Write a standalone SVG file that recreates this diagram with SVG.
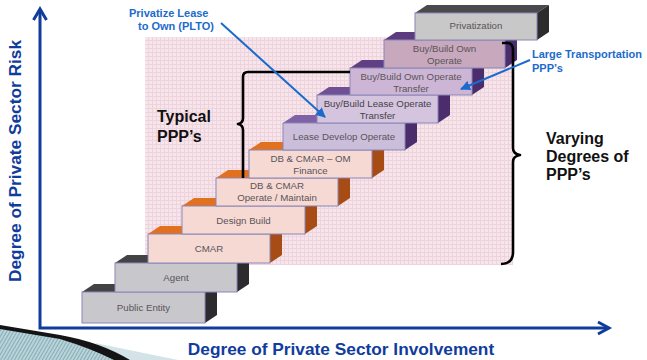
<svg xmlns="http://www.w3.org/2000/svg" width="647" height="360" viewBox="0 0 647 360">
  <defs>
    <pattern id="pinkGrid" width="4" height="4" patternUnits="userSpaceOnUse">
      <rect width="4" height="4" fill="#f6e6ec"/>
      <path d="M0,0.5H4M0.5,0V4" stroke="#eed3dc" stroke-width="1"/>
    </pattern>
    <pattern id="tealHatch" width="3" height="3" patternUnits="userSpaceOnUse" patternTransform="rotate(-60)">
      <rect width="3" height="3" fill="#b9d3d9"/>
      <path d="M0,0.5H3" stroke="#86adb6" stroke-width="1"/>
    </pattern>
    <marker id="blueHead" viewBox="0 0 10 10" refX="9" refY="5" markerWidth="5" markerHeight="5" orient="auto" markerUnits="strokeWidth">
      <path d="M0,0 L10,5 L0,10 Z" fill="#1c6bcc"/>
    </marker>
    <style>
      .front { stroke: #8a86b8; stroke-width: 1; }
      .gray .front { fill: #c8c8cc; }
      .gray .top { fill: #434345; }
      .gray .side { fill: #2c2c2e; }
      .peach .front { fill: #f6d9d3; }
      .peach .top { fill: #e2711f; }
      .peach .side { fill: #a84c16; }
      .violet .front { fill: #d0c2dd; }
      .violet .top { fill: #6f5094; }
      .violet .side { fill: #4a2d6a; }
      .lbl { font-family: "Liberation Sans", Arial, sans-serif; font-size: 9.7px; fill: #5a5458; text-anchor: middle; }
      .axis { stroke: #103c9c; stroke-width: 3; fill: none; }
      .axisText { font-family: "Liberation Sans", Arial, sans-serif; font-weight: bold; font-size: 17.3px; fill: #103c9c; }
      .note { font-family: "Liberation Sans", Arial, sans-serif; font-weight: bold; font-size: 11px; fill: #1c6bcc; }
      .big { font-family: "Liberation Sans", Arial, sans-serif; font-weight: bold; font-size: 16px; fill: #111; }
      .brace { stroke: #000; stroke-width: 2.6; fill: none; stroke-linejoin: round; }
      .callout { stroke: #1c6bcc; stroke-width: 2; fill: none; }
    </style>
  </defs>

  <rect width="647" height="360" fill="#ffffff"/>

  <!-- textured backdrop behind the staircase -->
  <rect x="145" y="37" width="368" height="228" fill="url(#pinkGrid)"/>

  <!-- corner decoration -->
  <path d="M95,343 L178,360 L112,360 Z" fill="#d3e3e7"/>
  <path d="M0,328 L95,344 L122,360 L0,360 Z" fill="url(#tealHatch)"/>
  <path d="M0,325 L60,335 Q100,342 130,360 L114,360 Q90,348 60,339 L0,329 Z" fill="#141414"/>

  <!-- staircase: each step = top face, side face, front face, label -->
  <g id="step-public-entity" class="gray">
    <polygon class="top" points="82,292 205,292 217,284 94,284"/>
    <polygon class="side" points="205,292 217,284 217,315 205,323"/>
    <rect class="front" x="82" y="292" width="123" height="31"/>
    <text class="lbl" x="143.5" y="311">Public Entity</text>
  </g>
  <g id="step-agent" class="gray">
    <polygon class="top" points="115,263 237,263 249,255 127,255"/>
    <polygon class="side" points="237,263 249,255 249,284 237,292"/>
    <rect class="front" x="115" y="263" width="122" height="29"/>
    <text class="lbl" x="176" y="281">Agent</text>
  </g>
  <g id="step-cmar" class="peach">
    <polygon class="top" points="148,234 270,234 282,226 160,226"/>
    <polygon class="side" points="270,234 282,226 282,255 270,263"/>
    <rect class="front" x="148" y="234" width="122" height="29"/>
    <text class="lbl" x="209" y="252">CMAR</text>
  </g>
  <g id="step-design-build" class="peach">
    <polygon class="top" points="182,206 305,206 317,198 194,198"/>
    <polygon class="side" points="305,206 317,198 317,226 305,234"/>
    <rect class="front" x="182" y="206" width="123" height="28"/>
    <text class="lbl" x="243.5" y="224">Design Build</text>
  </g>
  <g id="step-db-cmar-om" class="peach">
    <polygon class="top" points="216,178 338,178 350,170 228,170"/>
    <polygon class="side" points="338,178 350,170 350,198 338,206"/>
    <rect class="front" x="216" y="178" width="122" height="28"/>
    <text class="lbl" x="277" y="189">DB &amp; CMAR</text>
    <text class="lbl" x="277" y="201">Operate / Maintain</text>
  </g>
  <g id="step-db-cmar-om-finance" class="peach">
    <polygon class="top" points="249,150 372,150 384,142 261,142"/>
    <polygon class="side" points="372,150 384,142 384,170 372,178"/>
    <rect class="front" x="249" y="150" width="123" height="28"/>
    <text class="lbl" x="310.5" y="162">DB &amp; CMAR – OM</text>
    <text class="lbl" x="310.5" y="174">Finance</text>
  </g>
  <g id="step-lease-develop-operate" class="violet">
    <polygon class="top" points="283,123 405,123 417,115 295,115" style="fill:#7f62a6"/>
    <polygon class="side" points="405,123 417,115 417,142 405,150"/>
    <rect class="front" x="283" y="123" width="122" height="27" style="fill:#cbbedb"/>
    <text class="lbl" x="344" y="140">Lease Develop Operate</text>
  </g>
  <g id="step-bblot" class="violet">
    <polygon class="top" points="317,95 438,95 450,87 329,87"/>
    <polygon class="side" points="438,95 450,87 450,115 438,123"/>
    <rect class="front" x="317" y="95" width="121" height="28" style="fill:#d4c4de"/>
    <text class="lbl" x="377.5" y="107" style="fill:#48424a">Buy/Build Lease Operate</text>
    <text class="lbl" x="377.5" y="119" style="fill:#48424a">Transfer</text>
  </g>
  <g id="step-bboot" class="violet">
    <polygon class="top" points="350,68 472,68 484,60 362,60" style="fill:#603f84"/>
    <polygon class="side" points="472,68 484,60 484,87 472,95"/>
    <rect class="front" x="350" y="68" width="122" height="27" style="fill:#cdb6d5"/>
    <text class="lbl" x="411" y="80">Buy/Build Own Operate</text>
    <text class="lbl" x="411" y="92">Transfer</text>
  </g>
  <g id="step-bboo" class="violet">
    <polygon class="top" points="384,40 505,40 517,32 396,32" style="fill:#5c3c7e"/>
    <polygon class="side" points="505,40 517,32 517,60 505,68"/>
    <rect class="front" x="384" y="40" width="121" height="28" style="fill:#c8a8bd"/>
    <text class="lbl" x="444.5" y="52">Buy/Build Own</text>
    <text class="lbl" x="444.5" y="64">Operate</text>
  </g>
  <g id="step-privatization" class="gray">
    <polygon class="top" points="415,13 537,13 549,5 427,5" style="fill:#4a4a4c"/>
    <polygon class="side" points="537,13 549,5 549,32 537,40"/>
    <rect class="front" x="415" y="13" width="122" height="27" style="fill:#c8c8c8"/>
    <text class="lbl" x="476" y="29">Privatization</text>
  </g>

  <!-- braces and callouts -->
  <g id="connectors">
    <path class="brace" d="M350,72 H248 Q243,72 243,77 V118 Q243,123 238,124 Q243,125 243,130 V178"/>
    <path class="brace" d="M502,43 H507 Q513,43 513,50 V148 Q513,154 520,155 Q513,156 513,162 V252 Q513,264 501,264"/>
    <line class="callout" x1="221" y1="23" x2="325" y2="117" marker-end="url(#blueHead)"/>
    <line class="callout" x1="530" y1="60" x2="461" y2="89" marker-end="url(#blueHead)"/>
  </g>

  <!-- annotation texts -->
  <g id="label-typical">
    <text class="big" x="157" y="122">Typical</text>
    <text class="big" x="157" y="142">PPP’s</text>
  </g>
  <g id="label-varying">
    <text class="big" x="546" y="144">Varying</text>
    <text class="big" x="546" y="162">Degrees of</text>
    <text class="big" x="546" y="180">PPP’s</text>
  </g>
  <g id="label-plto">
    <text class="note" x="129" y="17">Privatize Lease</text>
    <text class="note" x="138" y="30">to Own (PLTO)</text>
  </g>
  <g id="label-large">
    <text class="note" x="532" y="58">Large Transportation</text>
    <text class="note" x="532" y="72">PPP’s</text>
  </g>

  <!-- axes -->
  <g id="axes">
    <path class="axis" d="M40,10 V328 H609"/>
    <path class="axis" d="M33.5,20 L40,9 L46.5,20"/>
    <path class="axis" d="M598,322 L609,328 L598,334"/>
    <text class="axisText" x="341" y="355" text-anchor="middle">Degree of Private Sector Involvement</text>
    <text class="axisText" transform="translate(20.5,161) rotate(-90)" text-anchor="middle">Degree of Private Sector Risk</text>
  </g>
</svg>
